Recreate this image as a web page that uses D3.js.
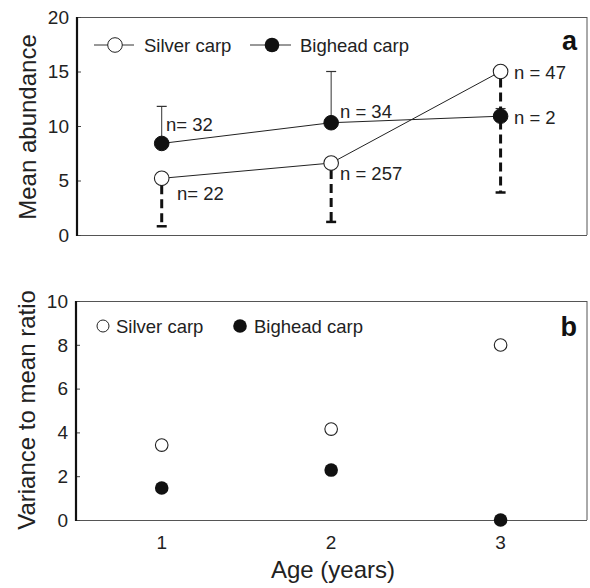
<!DOCTYPE html>
<html><head><meta charset="utf-8">
<script src="https://cdn.jsdelivr.net/npm/d3@7"></script>
<style>body{margin:0;background:#fff}svg{display:block;font-family:"Liberation Sans",Arial,sans-serif}</style>
</head><body>
<script>
const ages = [1, 2, 3];
const silverMean = [5.2, 6.6, 15.0];
const bigheadMean = [8.4, 10.3, 10.9];
const silverLower = [0.8, 1.2, 3.9];
const bigheadUpper = [11.8, 15.0, 11.6];
const silverN = ["n= 22", "n = 257", "n = 47"];
const bigheadN = ["n= 32", "n = 34", "n = 2"];
const silverRatio = [3.42, 4.15, 7.99];
const bigheadRatio = [1.46, 2.28, 0.0];
const ticksA = [0, 5, 10, 15, 20];
const ticksB = [0, 2, 4, 6, 8, 10];

const W = 590, H = 588;
const svg = d3.select("body").append("svg").attr("width", W).attr("height", H);

const x = d3.scaleLinear().domain([0.5, 3.51]).range([77, 587]);
const yA = d3.scaleLinear().domain([0, 20]).range([235, 17]);
const yB = d3.scaleLinear().domain([0, 10]).range([520, 301]);

const FS = 18.5, TS = 19, AS = 24;

function frame(y, ticks, left) {
  const g = svg.append("g");
  const [y0, y1] = y.range();
  g.append("line").attr("x1", left).attr("x2", 587).attr("y1", y1 + 0.5).attr("y2", y1 + 0.5).attr("stroke", "#555").attr("stroke-width", 1);
  g.append("line").attr("x1", 587).attr("x2", 587).attr("y1", y1).attr("y2", y0).attr("stroke", "#555").attr("stroke-width", 1);
  g.append("line").attr("x1", left).attr("x2", 587).attr("y1", y0 + 0.5).attr("y2", y0 + 0.5).attr("stroke", "#555").attr("stroke-width", 1.2);
  const ax = g.append("g").attr("transform", `translate(${left},0)`)
    .call(d3.axisRight(y).tickValues(ticks).tickSize(4).tickFormat(""));
  ax.select(".domain").remove();
  ax.selectAll("line").attr("stroke", "#444");
  g.append("line").attr("x1", left).attr("x2", left).attr("y1", y1).attr("y2", y0 + 1).attr("stroke", "#111").attr("stroke-width", 2.2);
  g.selectAll("text.tl").data(ticks).enter().append("text")
    .attr("x", left - 8).attr("y", d => y(d)).attr("dy", "0.36em")
    .attr("text-anchor", "end").attr("font-size", TS).attr("fill", "#222").text(d => d);
}

// Panel a
frame(yA, ticksA, 77);
const line = d3.line().x((d, i) => x(ages[i])).y(d => yA(d));
svg.append("path").attr("d", line(silverMean)).attr("fill", "none").attr("stroke", "#222").attr("stroke-width", 1);
svg.append("path").attr("d", line(bigheadMean)).attr("fill", "none").attr("stroke", "#222").attr("stroke-width", 1);

// bighead upper error (thin)
ages.forEach((a, i) => {
  svg.append("line").attr("x1", x(a)).attr("x2", x(a)).attr("y1", yA(bigheadMean[i])).attr("y2", yA(bigheadUpper[i])).attr("stroke", "#333").attr("stroke-width", 1);
  svg.append("line").attr("x1", x(a) - 5).attr("x2", x(a) + 5).attr("y1", yA(bigheadUpper[i])).attr("y2", yA(bigheadUpper[i])).attr("stroke", "#333").attr("stroke-width", 1.2);
});
// silver lower error (dashed thick)
ages.forEach((a, i) => {
  svg.append("line").attr("x1", x(a)).attr("x2", x(a)).attr("y1", yA(silverMean[i]) + 7).attr("y2", yA(silverLower[i]))
    .attr("stroke", "#111").attr("stroke-width", 3).attr("stroke-dasharray", "9,5");
  svg.append("line").attr("x1", x(a) - 5).attr("x2", x(a) + 5).attr("y1", yA(silverLower[i])).attr("y2", yA(silverLower[i])).attr("stroke", "#111").attr("stroke-width", 2.5);
});
svg.selectAll("circle.bh").data(bigheadMean).enter().append("circle")
  .attr("cx", (d, i) => x(ages[i])).attr("cy", d => yA(d)).attr("r", 7.3).attr("fill", "#111").attr("stroke", "#111");
svg.selectAll("circle.sv").data(silverMean).enter().append("circle")
  .attr("cx", (d, i) => x(ages[i])).attr("cy", d => yA(d)).attr("r", 7.3).attr("fill", "#fff").attr("stroke", "#222").attr("stroke-width", 1.1);

// n labels
const nPos = [
  [bigheadN[0], 166, 124], [silverN[0], 177, 193],
  [bigheadN[1], 340, 111], [silverN[1], 340, 173],
  [silverN[2], 514, 72], [bigheadN[2], 514, 117]
];
nPos.forEach(([t, px, py]) => svg.append("text").attr("x", px).attr("y", py).attr("dy", "0.36em").attr("font-size", FS).attr("fill", "#222").text(t));

// legend a
svg.append("line").attr("x1", 94).attr("x2", 134).attr("y1", 45).attr("y2", 45).attr("stroke", "#333");
svg.append("circle").attr("cx", 115).attr("cy", 45).attr("r", 7.3).attr("fill", "#fff").attr("stroke", "#222");
svg.append("text").attr("x", 144).attr("y", 45).attr("dy", "0.36em").attr("font-size", FS).attr("fill", "#222").text("Silver carp");
svg.append("line").attr("x1", 250).attr("x2", 291).attr("y1", 45).attr("y2", 45).attr("stroke", "#333");
svg.append("circle").attr("cx", 272).attr("cy", 45).attr("r", 7.3).attr("fill", "#111");
svg.append("text").attr("x", 300).attr("y", 45).attr("dy", "0.36em").attr("font-size", FS).attr("fill", "#222").text("Bighead carp");
svg.append("text").attr("x", 577).attr("y", 40).attr("dy", "0.36em").attr("text-anchor", "end").attr("font-size", 27).attr("font-weight", "bold").attr("fill", "#111").text("a");
svg.append("text").attr("transform", "translate(27,127) rotate(-90)").attr("dy", "0.36em").attr("text-anchor", "middle").attr("font-size", AS).attr("fill", "#222").text("Mean abundance");

// Panel b
frame(yB, ticksB, 76);
svg.selectAll("circle.sr").data(silverRatio).enter().append("circle")
  .attr("cx", (d, i) => x(ages[i])).attr("cy", d => yB(d)).attr("r", 6.3).attr("fill", "#fff").attr("stroke", "#222").attr("stroke-width", 1.1);
svg.selectAll("circle.br").data(bigheadRatio).enter().append("circle")
  .attr("cx", (d, i) => x(ages[i])).attr("cy", d => yB(d)).attr("r", 6.8).attr("fill", "#111");
svg.append("circle").attr("cx", 103).attr("cy", 326).attr("r", 6).attr("fill", "#fff").attr("stroke", "#222");
svg.append("text").attr("x", 116).attr("y", 326).attr("dy", "0.36em").attr("font-size", FS).attr("fill", "#222").text("Silver carp");
svg.append("circle").attr("cx", 240).attr("cy", 326).attr("r", 6.8).attr("fill", "#111");
svg.append("text").attr("x", 254).attr("y", 326).attr("dy", "0.36em").attr("font-size", FS).attr("fill", "#222").text("Bighead carp");
svg.append("text").attr("x", 577).attr("y", 326).attr("dy", "0.36em").attr("text-anchor", "end").attr("font-size", 27).attr("font-weight", "bold").attr("fill", "#111").text("b");
svg.append("text").attr("transform", "translate(26,410) rotate(-90)").attr("dy", "0.36em").attr("text-anchor", "middle").attr("font-size", AS).attr("fill", "#222").text("Variance to mean ratio");

// x axis labels
svg.selectAll("text.xt").data(ages).enter().append("text")
  .attr("x", d => x(d)).attr("y", 542).attr("dy", "0.36em").attr("text-anchor", "middle").attr("font-size", TS).attr("fill", "#222").text(d => d);
svg.append("text").attr("x", 333).attr("y", 569).attr("dy", "0.36em").attr("text-anchor", "middle").attr("font-size", AS).attr("fill", "#222").text("Age (years)");
</script>
</body></html>
